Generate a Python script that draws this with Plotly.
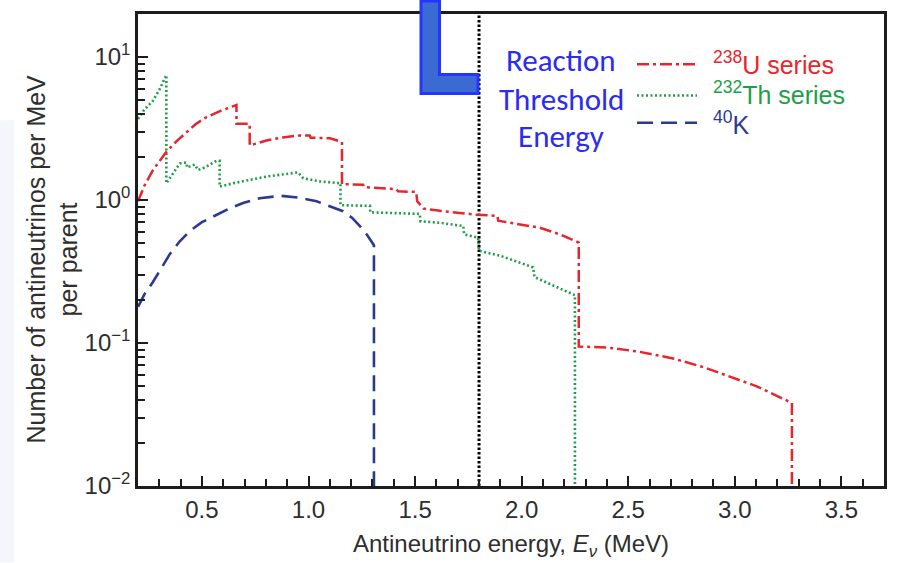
import math
import plotly.graph_objects as go

# ---- spectra: energy (MeV) and antineutrinos per MeV per parent ----
u_energy = [0.20, 0.23, 0.27, 0.30, 0.333, 0.38, 0.427, 0.47, 0.521, 0.59, 0.662, 0.662,
            0.724, 0.724, 0.803, 0.88, 0.959, 1.006, 1.01, 1.10, 1.157, 1.157, 1.256, 1.26,
            1.413, 1.42, 1.505, 1.51, 1.54, 1.617, 1.789, 1.886, 1.89, 2.085, 2.18, 2.268,
            2.268, 2.40, 2.55, 2.71, 2.85, 2.944, 3.10, 3.268, 3.268]
u_flux = [0.98, 1.26, 1.62, 1.88, 2.17, 2.57, 2.99, 3.39, 3.80, 4.22, 4.62, 3.41,
          3.41, 2.41, 2.61, 2.74, 2.83, 2.83, 2.73, 2.70, 2.55, 1.29, 1.28, 1.23,
          1.19, 1.15, 1.14, 0.98, 0.87, 0.84, 0.79, 0.775, 0.716, 0.64, 0.575, 0.504,
          0.0946, 0.093, 0.087, 0.078, 0.068, 0.0605, 0.050, 0.0381, 0.01]

th_energy = [0.20, 0.23, 0.27, 0.30, 0.333, 0.333, 0.396, 0.427, 0.43, 0.466, 0.482, 0.521,
             0.568, 0.583, 0.583, 0.646, 0.803, 0.951, 0.975, 1.053, 1.150, 1.150, 1.288,
             1.29, 1.522, 1.525, 1.616, 1.726, 1.73, 1.796, 1.80, 1.899, 2.054, 2.06, 2.25,
             2.25]
th_flux = [3.69, 4.30, 4.94, 5.90, 7.48, 1.31, 1.80, 1.83, 1.69, 1.77, 1.62, 1.71,
           1.88, 1.88, 1.24, 1.31, 1.46, 1.56, 1.42, 1.35, 1.31, 0.92, 0.91,
           0.82, 0.80, 0.71, 0.693, 0.658, 0.575, 0.546, 0.442, 0.408, 0.338, 0.289, 0.216,
           0.01]

k_energy = [0.20, 0.23, 0.27, 0.31, 0.349, 0.395, 0.443, 0.50, 0.568, 0.63, 0.693, 0.771,
            0.87, 0.95, 1.038, 1.10, 1.162, 1.205, 1.241, 1.275, 1.307, 1.307]
k_flux = [0.179, 0.219, 0.267, 0.339, 0.418, 0.513, 0.607, 0.70, 0.79, 0.875, 0.953, 1.03,
          1.07, 1.04, 0.98, 0.91, 0.835, 0.75, 0.658, 0.569, 0.483, 0.01]

threshold_energy = 1.8  # inverse beta decay threshold, MeV

x_range = [0.2, 3.7]
y_range = [0.01, 20]
x_ticks = [0.5, 1.0, 1.5, 2.0, 2.5, 3.0, 3.5]
x_tick_text = ["0.5", "1.0", "1.5", "2.0", "2.5", "3.0", "3.5"]
y_ticks = [0.01, 0.1, 1, 10]
y_tick_text = ["10<sup>\u22122</sup>", "10<sup>\u22121</sup>", "10<sup>0</sup>", "10<sup>1</sup>"]
y_minor = [m * d for d in (0.01, 0.1, 1) for m in range(2, 10)]

series_labels = ["<sup>238</sup>U series", "<sup>232</sup>Th series", "<sup>40</sup>K"]

RED = "#e8252d"
GREEN = "#1f9e48"
NAVY = "#2c3990"
BLUE_TXT = "#2b2bf2"
AXIS = "#1c1c1c"
TXT = "#2e2e2e"
SANS = "Liberation Sans, Arial, sans-serif"

W, H = 902, 563
L, R, T, B = 138, 884, 11, 486


def fx(p):
    return (p - L) / (R - L)


def fy(p):
    return (B - p) / (B - T)


U_DASH = "12px,4px,3px,4px"
TH_DASH = "2px,2.5px"
K_DASH = "16px,8px"

fig = go.Figure()
fig.add_trace(go.Scatter(x=[threshold_energy, threshold_energy], y=y_range, mode="lines",
                         line=dict(color="#000000", width=3, dash="2.5px,2px"),
                         showlegend=False, hoverinfo="skip"))
fig.add_trace(go.Scatter(x=k_energy, y=k_flux, mode="lines",
                         line=dict(color=NAVY, width=2.6, dash=K_DASH), showlegend=False))
fig.add_trace(go.Scatter(x=th_energy, y=th_flux, mode="lines",
                         line=dict(color=GREEN, width=2.6, dash=TH_DASH), showlegend=False))
fig.add_trace(go.Scatter(x=u_energy, y=u_flux, mode="lines",
                         line=dict(color=RED, width=2.5, dash=U_DASH), showlegend=False))

shapes = []
# legend line samples
for yy, col, dash, w in [(61.5, RED, U_DASH, 2.5), (93, GREEN, TH_DASH, 2.6), (120.5, NAVY, K_DASH, 2.6)]:
    shapes.append(dict(type="line", xref="paper", yref="paper",
                       x0=fx(637), x1=fx(697), y0=fy(yy), y1=fy(yy),
                       line=dict(color=col, width=w, dash=dash)))

# pointer bar at the top of the threshold line
path_pts = [(421, -2), (421, 91), (478, 91), (478, 72), (439.5, 72), (439.5, -2)]
path = "M " + " L ".join(f"{fx(a):.5f},{fy(b):.5f}" for a, b in path_pts) + " Z"
shapes.append(dict(type="path", xref="paper", yref="paper", path=path,
                   fillcolor="#3a6ad2", line=dict(color="#2236ff", width=3), layer="above"))

# faint panel strip at the far left
shapes.append(dict(type="rect", xref="paper", yref="paper",
                   x0=fx(0), x1=fx(14), y0=fy(563), y1=fy(118),
                   fillcolor="#f3f6fb", line=dict(width=0), layer="below"))

annotations = []
for txt, yy in [("Reaction", 57), ("Threshold", 96.5), ("Energy", 134)]:
    annotations.append(dict(text=txt, xref="paper", yref="paper", x=fx(561), y=fy(yy),
                            xanchor="center", yanchor="middle", showarrow=False,
                            font=dict(family="Carlito, Lato, sans-serif", size=31, color=BLUE_TXT)))
for txt, yy, col in [(series_labels[0], 60, RED), (series_labels[1], 91, GREEN), (series_labels[2], 121, NAVY)]:
    annotations.append(dict(text=txt, xref="paper", yref="paper", x=fx(711), y=fy(yy),
                            xanchor="left", yanchor="middle", showarrow=False,
                            font=dict(family=SANS, size=25, color=col)))

annotations.append(dict(text="Antineutrino energy, <i>E</i><sub><i>\u03bd</i></sub> (MeV)",
                        xref="paper", yref="paper", x=fx(511), y=fy(546),
                        xanchor="center", yanchor="middle", showarrow=False,
                        font=dict(family=SANS, size=24, color=TXT)))
annotations.append(dict(text="Number of antineutrinos per MeV", textangle=-90,
                        xref="paper", yref="paper", x=fx(36), y=fy(258),
                        xanchor="center", yanchor="middle", showarrow=False,
                        font=dict(family=SANS, size=25, color=TXT)))
annotations.append(dict(text="per parent", textangle=-90,
                        xref="paper", yref="paper", x=fx(68), y=fy(258),
                        xanchor="center", yanchor="middle", showarrow=False,
                        font=dict(family=SANS, size=25, color=TXT)))

tick_font = dict(family=SANS, size=24, color=TXT)

fig.update_layout(
    width=W, height=H, autosize=False,
    margin=dict(l=L, r=W - R, t=T, b=H - B, pad=0),
    paper_bgcolor="white", plot_bgcolor="white",
    shapes=shapes, annotations=annotations,
    xaxis=dict(range=x_range, tickvals=x_ticks, ticktext=x_tick_text,
               ticks="inside", ticklen=10, tickwidth=2, tickcolor=AXIS,
               showline=True, linewidth=2.5, linecolor=AXIS, mirror=True,
               showgrid=False, zeroline=False, tickfont=tick_font,
               minor=dict(tick0=0.2, dtick=0.1, ticks="inside", ticklen=7,
                          tickwidth=2, tickcolor=AXIS, showgrid=False)),
    yaxis=dict(type="log", range=[math.log10(y_range[0]), math.log10(y_range[1])],
               tickvals=y_ticks, ticktext=y_tick_text,
               ticks="inside", ticklen=10, tickwidth=2, tickcolor=AXIS,
               showline=True, linewidth=2.5, linecolor=AXIS, mirror=True,
               showgrid=False, zeroline=False, tickfont=tick_font,
               minor=dict(tickvals=y_minor, ticks="inside", ticklen=7,
                          tickwidth=2, tickcolor=AXIS, showgrid=False)),
)

fig.write_html("out.html", config={"displayModeBar": False})
